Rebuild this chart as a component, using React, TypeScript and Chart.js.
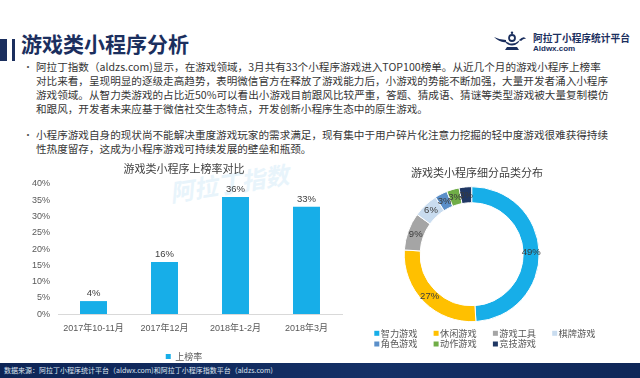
import React, { useEffect, useRef } from 'react';
import { Chart, registerables } from 'chart.js';

Chart.register(...registerables);

// ---------- data ----------
const barTitle = '游戏类小程序上榜率对比';
const barCategories = ['2017年10-11月', '2017年12月', '2018年1-2月', '2018年3月'];
const barSeriesName = '上榜率';
const barValues = [4, 16, 36, 33];
const yAxisMax = 40;
const yAxisStep = 5;

const pieTitle = '游戏类小程序细分品类分布';
const pieCategories = ['智力游戏', '休闲游戏', '游戏工具', '棋牌游戏', '角色游戏', '动作游戏', '竞技游戏'];
const pieValues = [49, 27, 9, 6, 3, 3, 3];

const pageTitle = '游戏类小程序分析';
const para1Lines = [
  '阿拉丁指数（aldzs.com)显示，在游戏领域，3月共有33个小程序游戏进入TOP100榜单。从近几个月的游戏小程序上榜率',
  '对比来看，呈现明显的逐级走高趋势，表明微信官方在释放了游戏能力后，小游戏的势能不断加强，大量开发者涌入小程序',
  '游戏领域。从智力类游戏的占比近50%可以看出小游戏目前跟风比较严重，答题、猜成语、猜谜等类型游戏被大量复制模仿',
  '和跟风，开发者未来应基于微信社交生态特点，开发创新小程序生态中的原生游戏。',
];
const para2Lines = [
  '小程序游戏自身的现状尚不能解决重度游戏玩家的需求满足，现有集中于用户碎片化注意力挖掘的轻中度游戏很难获得持续',
  '性热度留存，这成为小程序游戏可持续发展的壁垒和瓶颈。',
];
const footerText = '数据来源：阿拉丁小程序统计平台（aldwx.com)和阿拉丁小程序指数平台（aldzs.com)';
const logoName = '阿拉丁小程序统计平台';
const logoSite = 'Aldwx.com';
const watermarkText = '阿拉丁指数';

// ---------- styles ----------
const LATIN = '"Liberation Sans", "Noto Sans CJK SC", sans-serif';
const CJK = '"Noto Sans CJK SC", "Liberation Sans", sans-serif';
const NAVY = '#1b2f5e';
const BAR_COLOR = '#17AEE8';
const PIE_COLORS = ['#17AEE8', '#FFC000', '#A5A5A5', '#C9DCEF', '#5B8FC9', '#70AD47', '#203864'];

function BarChart() {
  const ref = useRef<HTMLCanvasElement>(null);
  useEffect(() => {
    const valueLabels = {
      id: 'valueLabels',
      afterDatasetsDraw(chart: any) {
        const ctx = chart.ctx;
        const meta = chart.getDatasetMeta(0);
        ctx.save();
        ctx.font = `9.5px ${LATIN}`;
        ctx.fillStyle = '#404040';
        ctx.textAlign = 'center';
        ctx.textBaseline = 'bottom';
        meta.data.forEach((bar: any, i: number) => {
          ctx.fillText(chart.data.datasets[0].data[i] + '%', bar.x, bar.y - 3);
        });
        ctx.restore();
      },
    };
    const chart = new Chart(ref.current!, {
      type: 'bar',
      data: {
        labels: barCategories,
        datasets: [
          {
            label: barSeriesName,
            data: barValues,
            backgroundColor: BAR_COLOR,
            barPercentage: 0.38,
            categoryPercentage: 1,
          },
        ],
      },
      options: {
        animation: false,
        responsive: false,
        maintainAspectRatio: false,
        layout: { padding: { right: 6 } },
        plugins: {
          title: {
            display: true,
            text: barTitle,
            color: '#404040',
            font: { size: 11, family: CJK, weight: 'normal' },
            padding: { top: 2, bottom: 8.8 },
          },
          legend: {
            position: 'bottom',
            labels: {
              boxWidth: 5,
              boxHeight: 5,
              padding: 9.9,
              color: '#595959',
              font: { size: 9, family: CJK },
            },
          },
          tooltip: { enabled: false },
        },
        scales: {
          x: {
            grid: { display: false, drawTicks: false },
            border: { display: true, color: '#D9D9D9' },
            ticks: {
              padding: 8.6,
              color: '#595959',
              font: { size: 9, family: LATIN },
              maxRotation: 0,
              autoSkip: false,
            },
          },
          y: {
            min: 0,
            max: yAxisMax,
            grid: { display: false, drawTicks: false },
            border: { display: false },
            ticks: {
              stepSize: yAxisStep,
              padding: 8,
              color: '#595959',
              font: { size: 9, family: LATIN },
              callback: (v: any) => v + '%',
            },
            afterFit: (s: any) => {
              s.width = 32;
            },
          },
        },
      },
      plugins: [valueLabels],
    } as any);
    return () => chart.destroy();
  }, []);
  return (
    <canvas
      ref={ref}
      width={322}
      height={211}
      style={{ position: 'absolute', left: 26, top: 160, width: 322, height: 211 }}
    />
  );
}

function DoughnutChart() {
  const ref = useRef<HTMLCanvasElement>(null);
  useEffect(() => {
    const shiftArea = {
      id: 'shiftArea',
      afterLayout(chart: any) {
        const a = chart.chartArea;
        a.left -= 5.3;
        a.right -= 5.3;
      },
    };
    const arcLabels = {
      id: 'arcLabels',
      afterDatasetsDraw(chart: any) {
        const ctx = chart.ctx;
        const meta = chart.getDatasetMeta(0);
        ctx.save();
        ctx.font = `9.5px ${LATIN}`;
        ctx.fillStyle = '#3a3a3a';
        ctx.textAlign = 'center';
        ctx.textBaseline = 'middle';
        meta.data.forEach((arc: any, i: number) => {
          const p = arc.tooltipPosition();
          ctx.fillText(chart.data.datasets[0].data[i] + '%', p.x, p.y);
        });
        ctx.restore();
      },
    };
    const gridLegend = {
      id: 'gridLegend',
      afterDraw(chart: any) {
        const ctx = chart.ctx;
        const labels = chart.data.labels as string[];
        const colors = chart.data.datasets[0].backgroundColor as string[];
        ctx.save();
        ctx.font = `9.2px ${CJK}`;
        ctx.textBaseline = 'middle';
        ctx.textAlign = 'left';
        labels.forEach((lab, i) => {
          const col = i % 4;
          const row = Math.floor(i / 4);
          const x = 34.3 + col * 59.3;
          const y = 173.3 + row * 10.7;
          ctx.fillStyle = colors[i];
          ctx.fillRect(x, y - 2.5, 5, 5);
          ctx.fillStyle = '#595959';
          ctx.fillText(lab, x + 6.4, y);
        });
        ctx.restore();
      },
    };
    const chart = new Chart(ref.current!, {
      type: 'doughnut',
      data: {
        labels: pieCategories,
        datasets: [
          {
            data: pieValues,
            backgroundColor: PIE_COLORS,
            borderColor: '#ffffff',
            borderWidth: 1,
            radius: 67.5,
            cutout: '76.3%',
            clip: false,
          },
        ],
      },
      options: {
        animation: false,
        responsive: false,
        maintainAspectRatio: false,
        layout: { padding: { bottom: 31.5 } },
        plugins: {
          title: {
            display: true,
            text: pieTitle,
            color: '#404040',
            font: { size: 11, family: CJK, weight: 'normal' },
            padding: { top: 6.7, bottom: 0 },
          },
          legend: { display: false },
          tooltip: { enabled: false },
        },
      },
      plugins: [shiftArea, arcLabels, gridLegend],
    } as any);
    return () => chart.destroy();
  }, []);
  return (
    <canvas
      ref={ref}
      width={274}
      height={200}
      style={{ position: 'absolute', left: 340, top: 160, width: 274, height: 200 }}
    />
  );
}

function Lamp() {
  return (
    <svg width={34} height={20} viewBox="0 0 34 20" style={{ position: 'absolute', left: 494, top: 31 }}>
      <path d="M0 6 Q6 12 12 11 L12 9 Q6 9 0 6 Z" fill={NAVY} />
      <path d="M10 9 Q18 16 26 9 L24 12 Q18 17 12 12 Z" fill={NAVY} />
      <circle cx={18} cy={7} r={3} fill="none" stroke={NAVY} strokeWidth={1.8} />
      <circle cx={18} cy={1.8} r={1.2} fill={NAVY} />
      <path d="M25 9 Q30 4 32 8 Q30 7 27 10 Z" fill={NAVY} />
      <path d="M13 16 L23 16 L25 19 L11 19 Z" fill={NAVY} />
    </svg>
  );
}

function TextBlock({ lines, top }: { lines: string[]; top: number }) {
  return (
    <div style={{ position: 'absolute', left: 0, top }}>
      <div
        style={{
          position: 'absolute',
          left: 23,
          top: 0,
          fontSize: 10,
          lineHeight: '14px',
          color: '#555',
          fontFamily: CJK,
        }}
      >
        •
      </div>
      {lines.map((l, i) => (
        <div
          key={i}
          style={{
            position: 'absolute',
            left: 36,
            top: i * 14,
            fontSize: 10.6,
            lineHeight: '14px',
            whiteSpace: 'nowrap',
            color: '#363636',
            fontFamily: CJK,
          }}
        >
          {l}
        </div>
      ))}
    </div>
  );
}

export default function App() {
  return (
    <div
      style={{
        position: 'fixed',
        left: 0,
        top: 0,
        width: 640,
        height: 378,
        background: '#ffffff',
        overflow: 'hidden',
        fontFamily: CJK,
      }}
    >
      <div style={{ position: 'absolute', left: 0, top: 39, width: 7, height: 22, background: NAVY }} />
      <div style={{ position: 'absolute', left: 12, top: 39, width: 3, height: 22, background: NAVY }} />
      <div
        style={{
          position: 'absolute',
          left: 21,
          top: 32.5,
          fontSize: 21,
          lineHeight: '21px',
          fontWeight: 'bold',
          color: NAVY,
          whiteSpace: 'nowrap',
        }}
      >
        {pageTitle}
      </div>
      <Lamp />
      <div
        style={{
          position: 'absolute',
          left: 533,
          top: 33,
          fontSize: 9.7,
          lineHeight: '11px',
          fontWeight: 'bold',
          color: NAVY,
          whiteSpace: 'nowrap',
        }}
      >
        {logoName}
      </div>
      <div
        style={{
          position: 'absolute',
          left: 533,
          top: 44,
          fontSize: 8,
          lineHeight: '9px',
          fontWeight: 'bold',
          color: NAVY,
          fontFamily: LATIN,
          whiteSpace: 'nowrap',
        }}
      >
        {logoSite}
      </div>
      <TextBlock lines={para1Lines} top={59.7} />
      <TextBlock lines={para2Lines} top={128} />
      <div
        style={{
          position: 'absolute',
          left: 172,
          top: 178,
          fontSize: 24,
          lineHeight: '28px',
          fontWeight: 'bold',
          fontStyle: 'italic',
          color: '#e8f4fb',
          whiteSpace: 'nowrap',
          transform: 'rotate(-9deg)',
          transformOrigin: 'left bottom',
        }}
      >
        {watermarkText}
      </div>
      <BarChart />
      <DoughnutChart />
      <div
        style={{
          position: 'absolute',
          left: 0,
          top: 363,
          width: 640,
          height: 15,
          background: 'linear-gradient(90deg, #0e2556 0%, #143066 60%, #0f2758 100%)',
        }}
      />
      <div
        style={{
          position: 'absolute',
          left: 4,
          top: 366,
          fontSize: 7,
          lineHeight: '9px',
          color: '#dde4ef',
          whiteSpace: 'nowrap',
        }}
      >
        {footerText}
      </div>
    </div>
  );
}
